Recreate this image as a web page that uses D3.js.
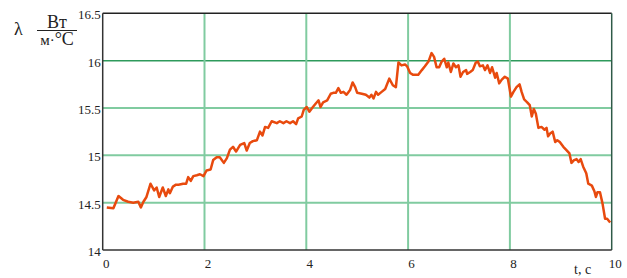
<!DOCTYPE html>
<html><head><meta charset="utf-8">
<script src="https://cdnjs.cloudflare.com/ajax/libs/d3/7.8.5/d3.min.js"></script>
<style>html,body{margin:0;padding:0;background:#fff;}svg{display:block;}svg text{font-family:"Liberation Serif","Times New Roman",serif;}</style>
</head><body><svg id="c" width="627" height="278"></svg>
<script>
const xTicks = [0, 2, 4, 6, 8, 10];
const xTickLabels = ["0", "2", "4", "6", "8", "10"];
const yTicks = [14, 14.5, 15, 15.5, 16, 16.5];
const yTickLabels = ["14", "14.5", "15", "15.5", "16", "16.5"];
const times = [0.08,0.21,0.31,0.40,0.50,0.60,0.70,0.75,0.80,0.86,0.94,1.01,1.06,1.11,1.18,1.24,1.29,1.32,1.38,1.44,1.49,1.58,1.64,1.68,1.73,1.78,1.85,1.91,1.98,2.04,2.12,2.17,2.24,2.30,2.38,2.44,2.50,2.56,2.62,2.70,2.78,2.83,2.89,2.95,3.03,3.09,3.14,3.19,3.25,3.32,3.42,3.48,3.55,3.61,3.68,3.74,3.80,3.84,3.91,3.95,4.01,4.06,4.13,4.19,4.24,4.28,4.33,4.41,4.48,4.53,4.58,4.63,4.68,4.73,4.79,4.86,4.91,4.96,5.00,5.09,5.17,5.24,5.28,5.32,5.37,5.41,5.48,5.55,5.63,5.70,5.76,5.81,5.87,5.94,5.98,6.04,6.10,6.20,6.27,6.33,6.40,6.46,6.51,6.56,6.61,6.66,6.71,6.76,6.79,6.84,6.89,6.94,6.99,7.03,7.08,7.14,7.16,7.22,7.27,7.33,7.37,7.41,7.47,7.51,7.56,7.61,7.65,7.71,7.74,7.79,7.84,7.90,7.96,8.02,8.07,8.13,8.19,8.23,8.28,8.34,8.39,8.43,8.47,8.51,8.56,8.62,8.68,8.72,8.75,8.79,8.84,8.89,8.93,8.98,9.05,9.12,9.17,9.21,9.26,9.31,9.35,9.39,9.44,9.50,9.54,9.61,9.66,9.69,9.72,9.77,9.82,9.87,9.91,9.97];
const heatCoef = [14.45,14.44,14.57,14.53,14.51,14.50,14.51,14.45,14.51,14.56,14.70,14.63,14.66,14.56,14.66,14.57,14.64,14.60,14.67,14.69,14.69,14.70,14.70,14.77,14.73,14.78,14.79,14.80,14.78,14.84,14.85,14.95,14.98,14.98,14.92,14.97,15.06,15.09,15.04,15.11,15.13,15.05,15.13,15.15,15.16,15.25,15.21,15.30,15.29,15.36,15.34,15.36,15.34,15.36,15.34,15.36,15.33,15.39,15.41,15.48,15.51,15.46,15.51,15.55,15.58,15.51,15.56,15.58,15.65,15.66,15.66,15.71,15.66,15.67,15.64,15.69,15.77,15.72,15.66,15.65,15.64,15.61,15.64,15.60,15.67,15.64,15.67,15.70,15.81,15.74,15.72,15.98,15.95,15.96,15.94,15.87,15.85,15.85,15.90,15.94,15.99,16.08,16.04,15.93,15.93,15.99,16.02,15.93,15.98,15.88,15.97,15.93,15.95,15.83,15.88,15.90,15.86,15.88,15.90,15.98,15.99,15.94,15.95,15.90,15.95,15.87,15.93,15.82,15.87,15.76,15.80,15.83,15.81,15.62,15.67,15.72,15.75,15.67,15.59,15.56,15.53,15.41,15.49,15.44,15.29,15.30,15.27,15.29,15.20,15.23,15.25,15.14,15.16,15.14,15.09,15.05,15.02,14.92,14.95,14.96,14.93,14.96,14.88,14.81,14.70,14.68,14.62,14.56,14.61,14.61,14.49,14.33,14.33,14.29];

const svg = d3.select("#c");
const L = 102.7, R = 611.7, T = 13.3, B = 250;
const x = d3.scaleLinear().domain([0, 10]).range([L, R]);
const y = d3.scaleLinear().domain([14, 16.5]).range([B, T]);

// grid
svg.append("g").selectAll("line").data(yTicks.filter(v => v > 14 && v < 16.5)).join("line")
  .attr("x1", L).attr("x2", R).attr("y1", d => y(d)).attr("y2", d => y(d))
  .attr("stroke", d => d === 16 ? "#2e9a5c" : "#80cba0")
  .attr("stroke-width", d => d === 16 ? 1.5 : 2);
svg.append("g").selectAll("line").data(xTicks.filter(v => v > 0 && v < 10)).join("line")
  .attr("y1", T).attr("y2", B).attr("x1", d => x(d)).attr("x2", d => x(d))
  .attr("stroke", "#80cba0").attr("stroke-width", 2);

// frame
svg.append("line").attr("x1", L).attr("x2", R).attr("y1", T).attr("y2", T).attr("stroke", "#222").attr("stroke-width", 1.5);
svg.append("line").attr("x1", R).attr("x2", R).attr("y1", T).attr("y2", B).attr("stroke", "#2f5a48").attr("stroke-width", 1.5);
svg.append("line").attr("x1", L).attr("x2", R).attr("y1", B).attr("y2", B).attr("stroke", "#333").attr("stroke-width", 1.5);
svg.append("line").attr("x1", L).attr("x2", L).attr("y1", T).attr("y2", B).attr("stroke", "#333").attr("stroke-width", 1.5);

// data line
const line = d3.line().x((d, i) => x(times[i])).y(d => y(d));
svg.append("path").datum(heatCoef).attr("d", line)
  .attr("fill", "none").attr("stroke", "#e84a0e").attr("stroke-width", 2.5)
  .attr("stroke-linejoin", "round");

// tick labels
svg.append("g").selectAll("text").data(yTicks).join("text")
  .attr("x", L - 2).attr("y", d => y(d) + 6).attr("text-anchor", "end")
  .attr("font-size", 13).attr("fill", "#222")
  .text((d, i) => yTickLabels[i]);
svg.append("g").selectAll("text").data(xTicks).join("text")
  .attr("x", d => x(d) + 3.5).attr("y", 268).attr("text-anchor", "middle")
  .attr("font-size", 13).attr("fill", "#222")
  .text((d, i) => xTickLabels[i]);
// axis labels
svg.append("text").attr("x", 574).attr("y", 274).attr("font-size", 14).attr("fill", "#222").text("t, с");
svg.append("text").attr("x", 14).attr("y", 35).attr("font-size", 18).attr("fill", "#222").text("λ");
svg.append("text").attr("x", 57).attr("y", 28).attr("text-anchor", "middle").attr("font-size", 18).attr("fill", "#222").text("Вт");
svg.append("line").attr("x1", 37).attr("x2", 77).attr("y1", 30.5).attr("y2", 30.5).attr("stroke", "#222").attr("stroke-width", 1);
svg.append("text").attr("x", 57).attr("y", 45).attr("text-anchor", "middle").attr("font-size", 18).attr("fill", "#222")
  .html('<tspan font-size="15">м·</tspan>°C');
</script></body></html>
